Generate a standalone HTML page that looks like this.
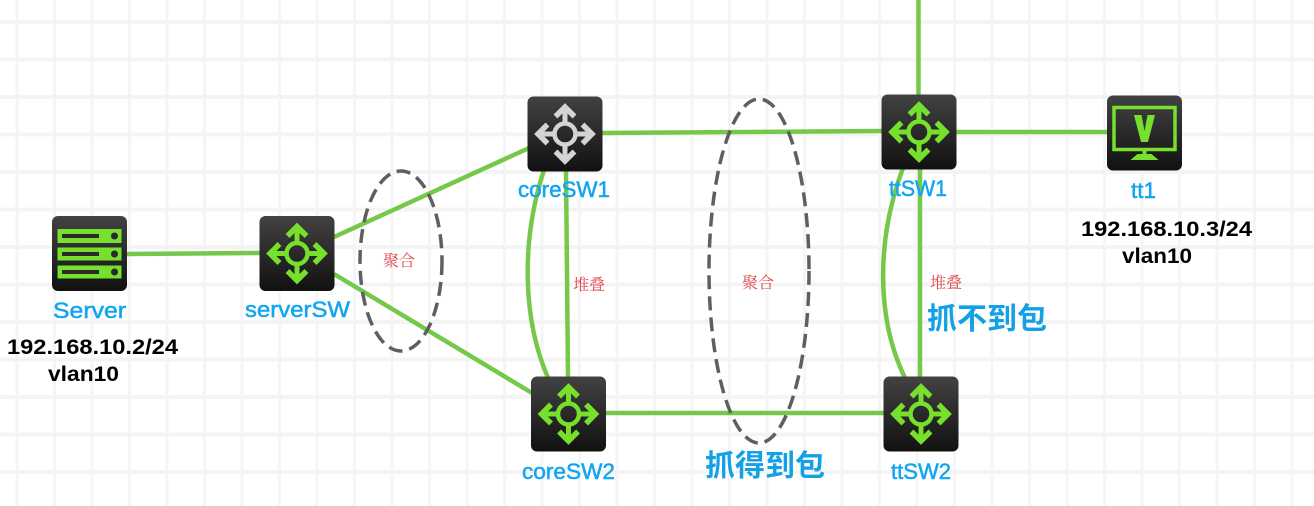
<!DOCTYPE html>
<html lang="zh">
<head>
<meta charset="utf-8">
<title>Network diagram</title>
<style>
html,body{margin:0;padding:0;background:#fff}
body{width:1314px;height:506px;overflow:hidden}
svg{display:block}
.lb{font-family:"Liberation Sans","Noto Sans CJK SC",sans-serif;font-size:22px;fill:#12a5f0;font-weight:400;stroke:#12a5f0;stroke-width:.5px}
.ip{font-family:"Liberation Sans","Noto Sans CJK SC",sans-serif;font-size:21px;font-weight:700;fill:#000}
.cn{font-family:"Liberation Serif","Noto Serif CJK SC",serif;font-size:16px;fill:#e0474c;text-anchor:middle}
.big{font-family:"Liberation Sans","Noto Sans CJK SC",sans-serif;font-size:30px;font-weight:700;fill:#12a0e6;text-anchor:middle}
.l{fill:none;stroke:#76c84a;stroke-width:4.5}
.e{fill:none;stroke:#5f5f5f;stroke-width:3.5;stroke-dasharray:14 7}
</style>
</head>
<body>
<svg width="1314" height="506" viewBox="0 0 1314 506" xmlns="http://www.w3.org/2000/svg">
<defs>
<linearGradient id="g" x1="0" y1="0" x2="0" y2="1">
<stop offset="0" stop-color="#424242"/><stop offset="1" stop-color="#111"/>
</linearGradient>
<pattern id="gv" x="15.5" y="0" width="37.5" height="506" patternUnits="userSpaceOnUse">
<rect x="0" y="0" width="3" height="506" fill="#f5f5f5"/>
</pattern>
<pattern id="gh" x="0" y="20" width="1314" height="37.5" patternUnits="userSpaceOnUse">
<rect x="0" y="0" width="1314" height="4" fill="#f4f4f4"/>
</pattern>
<g id="arr" fill="none" stroke-linecap="butt" stroke-linejoin="miter">
<circle cx="0" cy="0" r="10.5" stroke-width="4.5"/>
<path stroke-width="5" d="M0-12V-27M0 12V27M-12 0H-27M12 0H27"/>
<path stroke-width="5.5" d="M-9.5-17.5L0-27L9.5-17.5M-9.5 17.5L0 27L9.5 17.5M-17.5-9.5L-27 0L-17.5 9.5M17.5-9.5L27 0L17.5 9.5"/>
</g>
<rect id="box" x="-37.5" y="-37.5" width="75" height="75" rx="6" fill="url(#g)"/>
</defs>
<rect width="1314" height="506" fill="#fff"/>
<rect width="1314" height="506" fill="url(#gv)"/>
<rect width="1314" height="506" fill="url(#gh)"/>

<!-- connectors -->
<path class="l" d="M127 254L260 253"/>
<path class="l" d="M334 237L529 148"/>
<path class="l" d="M334 274L532 393"/>
<path class="l" d="M602 133L882 131"/>
<path class="l" d="M606 413L884 413"/>
<path class="l" d="M956 132L1107 132"/>
<path class="l" d="M918.500 0V95"/>
<path class="l" d="M566 170L568 378"/>
<path class="l" d="M920 168V378"/>
<path class="l" d="M544 170C521 240 522 320 549 380"/>
<path class="l" d="M903 168C876 240 876 320 906 380"/>

<!-- ellipses -->
<ellipse class="e" cx="401" cy="261" rx="41" ry="90"/>
<ellipse class="e" cx="759" cy="271" rx="50" ry="172"/>

<!-- Server -->
<g transform="translate(89.5,253.5)">
<use href="#box"/>
<g fill="#76e02c">
<rect x="-32" y="-24.500" width="64" height="14"/>
<rect x="-32" y="-6" width="64" height="13"/>
<rect x="-32" y="12" width="64" height="13"/>
</g>
<g fill="#2a2a2a">
<rect x="-27.500" y="-19.500" width="37" height="4"/><circle cx="25" cy="-17.500" r="3.500"/>
<rect x="-27.500" y="-1.500" width="37" height="4"/><circle cx="25" cy=".5" r="3.500"/>
<rect x="-27.500" y="16.500" width="37" height="4"/><circle cx="25" cy="18.500" r="3.500"/>
</g>
</g>

<!-- switches -->
<g transform="translate(297,253.5)"><use href="#box"/><use href="#arr" stroke="#76e02c"/></g>
<g transform="translate(565,134)"><use href="#box"/><use href="#arr" stroke="#d4d4d4"/></g>
<g transform="translate(919,132)"><use href="#box"/><use href="#arr" stroke="#76e02c"/></g>
<g transform="translate(568.5,414)"><use href="#box"/><use href="#arr" stroke="#76e02c"/></g>
<g transform="translate(921,414)"><use href="#box"/><use href="#arr" stroke="#76e02c"/></g>

<!-- tt1 -->
<g transform="translate(1144.5,133)">
<use href="#box"/>
<rect x="-30.500" y="-25.500" width="61" height="42" fill="none" stroke="#76e02c" stroke-width="3.500"/>
<path fill="#76e02c" d="M-10.500-18H-3L0-2L3-18H10.500L3.500 9H-3.500Z"/>
<path fill="#76e02c" d="M-14 27L-7 21H7L14 27Z"/>
<rect x="-2" y="17" width="4" height="4" fill="#76e02c"/>
</g>

<!-- labels -->
<text class="lb" x="53" y="318" textLength="73" lengthAdjust="spacingAndGlyphs">Server</text>
<text class="lb" x="245" y="317" textLength="105" lengthAdjust="spacingAndGlyphs">serverSW</text>
<text class="lb" x="518" y="197" textLength="92" lengthAdjust="spacingAndGlyphs">coreSW1</text>
<text class="lb" x="889" y="196" textLength="58" lengthAdjust="spacingAndGlyphs">ttSW1</text>
<text class="lb" x="1131" y="198" textLength="25" lengthAdjust="spacingAndGlyphs">tt1</text>
<text class="lb" x="522" y="479" textLength="93" lengthAdjust="spacingAndGlyphs">coreSW2</text>
<text class="lb" x="891" y="479" textLength="60" lengthAdjust="spacingAndGlyphs">ttSW2</text>

<text class="ip" x="7" y="354" textLength="171" lengthAdjust="spacingAndGlyphs">192.168.10.2/24</text>
<text class="ip" x="48" y="381" textLength="71" lengthAdjust="spacingAndGlyphs">vlan10</text>
<text class="ip" x="1081" y="236" textLength="171" lengthAdjust="spacingAndGlyphs">192.168.10.3/24</text>
<text class="ip" x="1122" y="263" textLength="70" lengthAdjust="spacingAndGlyphs">vlan10</text>

<text class="cn" x="399" y="266">聚合</text>
<text class="cn" x="589" y="290">堆叠</text>
<text class="cn" x="758" y="288">聚合</text>
<text class="cn" x="946" y="288">堆叠</text>

<text class="big" x="987" y="329">抓不到包</text>
<text class="big" x="765" y="476">抓得到包</text>
</svg>
</body>
</html>
